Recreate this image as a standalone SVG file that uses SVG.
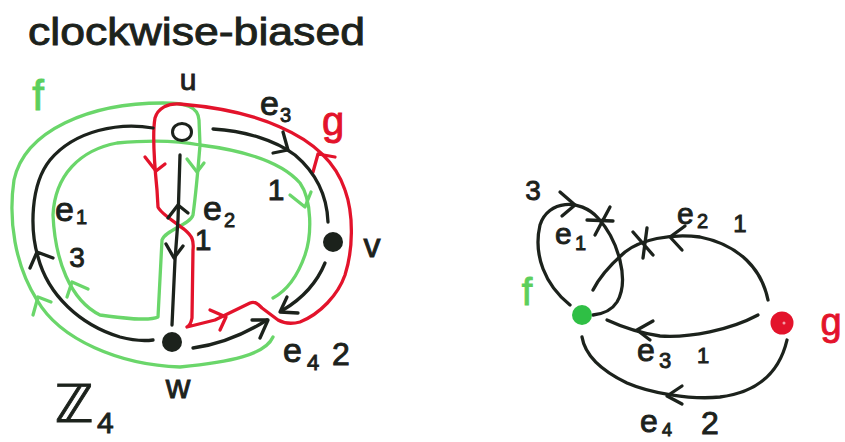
<svg xmlns="http://www.w3.org/2000/svg" width="845" height="442" viewBox="0 0 845 442">
<style>
  text { font-family: "Liberation Sans", "DejaVu Sans", sans-serif; fill: #1c221c; stroke: #1c221c; stroke-width: 0.9; }
  .gr { fill: #5ccf5c; stroke: #5ccf5c; }
  .rd { fill: #e3132b; stroke: #e3132b; }
  .k { fill: none; stroke: #1c221c; stroke-width: 3.3; stroke-linecap: round; stroke-linejoin: round; }
  .gline { fill: none; stroke: #6ad66a; stroke-width: 3.3; stroke-linecap: round; stroke-linejoin: round; }
  .rline { fill: none; stroke: #e3132b; stroke-width: 3.3; stroke-linecap: round; stroke-linejoin: round; }
</style>
<rect width="845" height="442" fill="#ffffff"/>

<text x="28" y="45" font-size="38" textLength="337" lengthAdjust="spacingAndGlyphs">clockwise-biased</text>

<!-- face boundaries f and g -->
<g id="face-f-boundary">
  <path class="gline" d="M 273,337 C 265,355 230,362 180,367 C 120,365 60,340 37,300 C 15,265 8,220 14,180 C 25,130 90,103 163,103 C 185,103 198,106 199,120 L 200,145 C 198,170 195,200 193,215 C 190,225 165,230 162,240 L 158,317 C 150,321 120,318 100,315 C 70,300 55,260 53,215 C 55,175 80,150 117,143 C 150,140 180,141 200,145 C 240,150 280,160 300,183 C 312,200 312,235 305,255 C 298,275 288,290 273,298"/>
  <path class="gline" d="M 187,159 L 197,172 L 204,163"/>
  <path class="gline" d="M 290,195 L 305,207 L 311,192"/>
  <path class="gline" d="M 67,297 L 72,282 L 88,289"/>
  <path class="gline" d="M 33,315 L 38,297 L 51,302"/>
</g>
<g id="face-g-boundary">
  <path class="rline" d="M 158,207 C 160,213 175,222 185,230 C 192,236 194,240 193,250 L 192,318 C 191,323 189,326 187,327 L 215,320 L 250,303 C 255,301 258,304 262,308 L 278,320 C 285,324 292,324 300,322 C 320,314 338,295 345,275 C 353,250 354,215 345,190 C 335,160 310,140 280,127 C 250,113 215,107 180,104 C 168,103 158,108 155,118 C 152,135 155,170 157,190 Z"/>
  <path class="rline" d="M 145,157 L 156,171 L 165,164"/>
  <path class="rline" d="M 313,172 L 318,154 L 335,157"/>
  <path class="rline" d="M 210,310 L 226,317 L 220,330"/>
</g>

<!-- connectors -->
<g id="connectors">
  <g id="e1">
    <path class="k" d="M 153,128 C 120,122 75,130 50,160 C 30,185 30,230 38,257 C 48,295 80,325 120,337 C 135,341 145,341 153,340"/>
    <path class="k" d="M 30,268 L 37,252 L 53,258"/>
  </g>
  <g id="e2">
    <path class="k" d="M 180,155 L 178,220 L 175,260 L 172,325"/>
    <path class="k" d="M 168,218 L 178,205 L 188,213"/>
    <path class="k" d="M 166,244 L 174,258 L 183,246"/>
  </g>
  <g id="e3">
    <path class="k" d="M 213,129 C 245,131 275,140 295,155 C 315,172 327,195 328,222"/>
    <path class="k" d="M 283,132 L 288,150 L 273,153"/>
  </g>
  <g id="v-edge">
    <path class="k" d="M 325,263 C 318,280 305,297 283,310"/>
    <path class="k" d="M 287,297 L 280,312 L 298,313"/>
  </g>
  <g id="e4">
    <path class="k" d="M 193,348 C 215,345 240,337 267,320"/>
    <path class="k" d="M 252,320 L 268,320 L 260,338"/>
  </g>

  <g id="r-e1">
    <path class="k" d="M 570,305 C 545,285 533,255 540,225 C 548,200 580,198 598,218 C 618,240 630,280 617,302 C 612,310 602,314 593,315"/>
    <path class="k" d="M 560,192 L 575,205 L 562,216"/>
    <path class="k" d="M 587,220 L 613,221 M 610,207 L 595,235"/>
  </g>
  <g id="r-e2">
    <path class="k" d="M 768,300 C 762,270 740,245 700,237 C 670,233 640,240 625,252 C 610,265 598,280 593,290"/>
    <path class="k" d="M 685,226 L 670,237 L 682,250"/>
    <path class="k" d="M 633,232 L 653,255 M 647,228 L 643,258"/>
  </g>
  <g id="r-e3">
    <path class="k" d="M 758,315 C 730,330 690,338 660,336 C 640,333 620,326 607,320"/>
    <path class="k" d="M 653,321 L 637,330 L 650,340"/>
  </g>
  <g id="r-e4">
    <path class="k" d="M 787,340 C 780,370 760,392 720,397 C 690,400 650,393 627,383 C 600,370 585,355 582,337"/>
    <path class="k" d="M 682,386 L 667,396 L 682,404"/>
  </g>
</g>

<!-- nodes -->
<g id="node-u">
  <ellipse cx="182" cy="132" rx="9.5" ry="8.5" fill="#ffffff" stroke="#1c221c" stroke-width="3"/>
  <text x="188" y="90" font-size="30" text-anchor="middle">u</text>
</g>
<g id="node-v">
  <circle cx="333" cy="242" r="10" fill="#1c221c"/>
  <text x="372" y="257" font-size="34" text-anchor="middle">v</text>
</g>
<g id="node-w">
  <circle cx="172" cy="342" r="10" fill="#1c221c"/>
  <text x="178" y="398" font-size="34" text-anchor="middle">w</text>
</g>
<g id="node-f">
  <circle cx="582" cy="315" r="10" fill="#2fbf45"/>
  <text x="527" y="305" font-size="38" text-anchor="middle" class="gr">f</text>
</g>
<g id="node-g">
  <circle cx="782" cy="323" r="11.5" fill="#e3132b"/>
  <circle cx="784" cy="323" r="1.5" fill="#f3a0a8"/>
  <text x="831" y="335" font-size="38" text-anchor="middle" class="rd">g</text>
</g>

<!-- labels, left graph -->
<g id="labels-left">
  <text x="38" y="110" font-size="42" text-anchor="middle" class="gr">f</text>
  <text x="333" y="135" font-size="40" text-anchor="middle" class="rd">g</text>
  <text x="260" y="115" font-size="34">e</text><text x="280" y="122" font-size="20">3</text>
  <text x="276" y="200" font-size="30" text-anchor="middle">1</text>
  <text x="203" y="220" font-size="34">e</text><text x="224" y="227" font-size="20">2</text>
  <text x="203" y="250" font-size="30" text-anchor="middle">1</text>
  <text x="55" y="221" font-size="34">e</text><text x="76" y="224" font-size="20">1</text>
  <text x="77" y="267" font-size="28" text-anchor="middle">3</text>
  <text x="283" y="362" font-size="34">e</text><text x="307" y="370" font-size="22">4</text>
  <text x="332" y="365" font-size="32">2</text>
  <text x="55" y="422" font-size="52" style="font-family:'DejaVu Sans', sans-serif">ℤ</text>
  <text x="97" y="433" font-size="30">4</text>
</g>

<!-- labels, right graph -->
<g id="labels-right">
  <text x="533" y="200" font-size="28" text-anchor="middle">3</text>
  <text x="555" y="244" font-size="30">e</text><text x="575" y="250" font-size="20">1</text>
  <text x="677" y="224" font-size="30">e</text><text x="697" y="228" font-size="20">2</text>
  <text x="740" y="232" font-size="24" text-anchor="middle">1</text>
  <text x="637" y="361" font-size="32">e</text><text x="659" y="368" font-size="22">3</text>
  <text x="703" y="363" font-size="22" text-anchor="middle">1</text>
  <text x="640" y="432" font-size="32">e</text><text x="662" y="436" font-size="18">4</text>
  <text x="710" y="434" font-size="32" text-anchor="middle">2</text>
</g>
</svg>
